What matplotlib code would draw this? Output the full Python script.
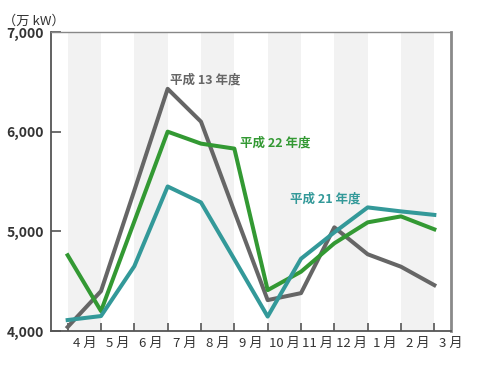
import matplotlib
matplotlib.use("Agg")
import matplotlib.pyplot as plt
import numpy as np

plt.rcParams['font.family'] = ['Noto Sans CJK JP', 'DejaVu Sans']

months = ['4 月', '5 月', '6 月', '7 月', '8 月', '9 月', '10 月', '11 月', '12 月', '1 月', '2 月', '3 月']
h13 = [4040, 4400, 5410, 6430, 6100, 5200, 4310, 4380, 5040, 4770, 4645, 4460]
h22 = [4760, 4200, 5100, 6000, 5880, 5830, 4410, 4595, 4880, 5090, 5150, 5020]
h21 = [4110, 4150, 4650, 5450, 5290, 4720, 4145, 4725, 4990, 5240, 5200, 5165]
yticks = [4000, 5000, 6000, 7000]
ytick_labels = ['4,000', '5,000', '6,000', '7,000']
unit_label = '（万 kW）'
series_labels = ['平成 13 年度', '平成 22 年度', '平成 21 年度']

c13 = '#666666'
c22 = '#339933'
c21 = '#339999'

fig = plt.figure(figsize=(4.8, 3.7), dpi=100)
ax = fig.add_axes([51/480, 1 - 331/370, 400/480, 299/370])

n = len(months)
x = np.arange(n)
for i in range(0, n, 2):
    ax.axvspan(i, i + 1, color='#f2f2f2', lw=0, zorder=0)

ax.plot(x, h13, color=c13, lw=2.9, zorder=3)
ax.plot(x, h22, color=c22, lw=2.9, zorder=4)
ax.plot(x, h21, color=c21, lw=2.9, zorder=5)

ax.set_xlim(-0.5, n - 0.5)
ax.set_ylim(yticks[0], yticks[-1])

ax.set_yticks(yticks)
ax.set_yticklabels(ytick_labels, fontsize=10, fontweight='bold', color='#333333')
ax.tick_params(axis='y', direction='in', length=7, width=1.2, color='#555555', pad=5)

ax.set_xticks(x)
ax.set_xticklabels([])
ax.tick_params(axis='x', which='major', direction='in', length=6, width=1.2, color='#555555')
ax.set_xticks(x + 0.5, minor=True)
ax.set_xticklabels(months, minor=True, fontsize=9.5, color='#333333')
ax.tick_params(axis='x', which='minor', length=0, pad=4)

for side in ['left', 'bottom']:
    ax.spines[side].set_color('#555555')
    ax.spines[side].set_linewidth(1.3)
ax.spines['top'].set_color('#888888')
ax.spines['top'].set_linewidth(1.0)
ax.spines['right'].set_color('#8a8a8a')
ax.spines['right'].set_linewidth(2.0)

ax.text(3.06, 6520, series_labels[0], color=c13, fontsize=9, fontweight='bold', ha='left', va='center', zorder=6)
ax.text(5.18, 5890, series_labels[1], color=c22, fontsize=9, fontweight='bold', ha='left', va='center', zorder=6)
ax.text(6.66, 5325, series_labels[2], color=c21, fontsize=9, fontweight='bold', ha='left', va='center', zorder=6)

fig.text(3/480, 1 - 21/370, unit_label, fontsize=9.5, color='#333333', ha='left', va='center')

fig.savefig('out.png', dpi=100)
